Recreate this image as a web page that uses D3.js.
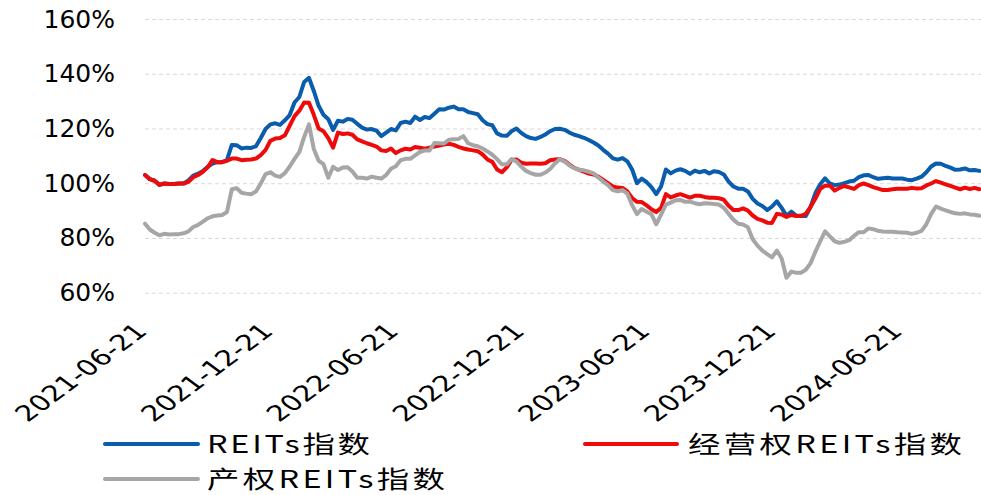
<!DOCTYPE html>
<html><head><meta charset="utf-8">
<script src="https://cdn.jsdelivr.net/npm/d3@7"></script>
<style>html,body{margin:0;padding:0;background:#fff;}</style>
</head><body><svg id="c" width="981" height="495"></svg>
<script>
const startDate = "2021-06-21";
const tickDates = ["2021-06-21","2021-12-21","2022-06-21","2022-12-21","2023-06-21","2023-12-21","2024-06-21"];
const yTicks = [60,80,100,120,140,160];
const seriesNames = ["REITs指数","经营权REITs指数","产权REITs指数"];
const seriesColors = ["#0A5DAD","#EE0A0A","#A6A6A6"];

const reits = [
103.0,101.5,100.9,99.4,99.9,99.7,99.7,99.9,99.9,101.0,
102.8,103.5,104.5,106.0,107.2,107.7,107.7,108.5,114.0,113.9,
112.7,113.0,112.9,113.5,116.5,119.8,121.5,121.9,121.3,123.0,
124.9,129.5,131.5,137.0,138.5,133.7,128.3,125.0,123.4,119.5,
122.8,122.5,123.5,123.2,121.7,120.3,119.6,119.8,119.2,117.2,
118.5,119.8,119.3,122.0,122.5,122.0,124.3,123.1,124.2,123.8,
125.4,127.0,126.9,127.6,128.0,127.0,127.0,126.0,125.6,125.2,
123.0,121.6,121.2,118.2,117.4,117.3,119.0,120.0,118.4,117.2,
116.5,116.2,116.9,117.8,119.0,119.8,119.9,119.5,118.5,117.7,
117.2,116.6,115.8,114.9,113.8,112.2,110.8,109.1,108.6,109.2,
108.0,105.0,100.0,101.7,100.4,98.6,96.0,98.8,105.0,103.6,
104.6,105.1,104.5,103.4,104.6,104.0,104.5,103.6,104.4,104.1,
103.2,100.6,98.8,98.0,98.0,97.0,94.3,92.6,91.7,90.2,
91.5,93.4,91.0,88.1,89.6,88.2,88.0,88.0,91.4,96.4,
99.6,101.8,99.9,99.3,99.5,100.0,100.6,100.9,102.2,102.9,
103.0,102.2,101.6,101.8,102.0,101.7,101.7,101.7,101.3,101.1,
101.7,102.4,104.0,106.1,107.2,107.1,106.3,105.7,104.9,105.0,
105.4,104.7,104.8,104.5
];
const operating = [
103.0,101.5,100.9,99.4,99.9,99.7,99.7,99.9,99.9,100.5,
102.2,103.0,104.2,105.8,108.5,107.7,107.7,108.2,109.0,109.0,
108.4,108.6,108.7,109.0,110.3,112.2,115.5,116.3,116.5,117.5,
121.0,124.5,126.5,129.5,129.4,125.0,120.0,119.0,116.5,113.0,
118.5,118.0,118.2,117.7,116.0,115.3,114.6,114.0,113.4,112.0,
111.8,112.7,111.0,112.0,112.6,112.3,113.2,113.0,112.6,113.0,
113.4,113.8,114.1,114.4,114.0,113.3,112.7,112.3,112.0,111.7,
110.5,108.7,107.8,105.0,104.0,105.8,108.5,108.7,107.5,107.1,
107.2,107.2,107.1,107.3,108.4,108.7,108.8,108.2,106.8,105.6,
104.9,104.2,103.5,103.2,102.4,101.2,100.0,98.8,98.4,98.3,
97.0,94.6,93.2,93.1,91.9,90.5,89.5,91.0,96.0,94.8,
95.5,96.0,95.4,94.7,95.4,95.4,95.0,94.7,94.7,94.5,
94.0,91.8,90.2,90.2,90.8,90.0,88.2,87.0,86.4,85.6,
85.5,88.8,88.6,87.7,88.4,88.0,88.1,88.8,91.4,94.4,
97.9,99.1,99.1,97.3,98.3,99.0,98.5,97.9,99.3,99.9,
99.3,98.6,98.0,97.5,97.5,97.8,98.0,98.0,98.0,98.3,
98.1,98.2,99.2,99.9,100.8,100.2,99.6,99.0,98.4,97.8,
98.4,97.9,98.3,97.8
];
const property = [
85.2,83.1,81.9,81.0,81.5,81.3,81.4,81.4,81.7,82.4,
84.0,84.8,86.0,87.2,87.9,88.2,88.4,89.5,97.8,98.2,
96.5,96.2,96.0,97.0,99.9,103.3,104.0,102.8,102.3,103.7,
106.1,108.9,111.4,116.9,121.5,112.5,108.2,107.0,102.0,106.0,
104.8,105.7,105.8,104.3,102.0,102.0,101.7,102.4,102.0,101.7,
103.0,105.3,106.2,108.4,108.9,108.9,110.2,111.4,112.0,112.0,
114.7,114.6,114.5,115.9,116.1,116.2,117.2,114.6,113.9,113.5,
112.7,111.6,110.4,108.8,106.9,106.9,108.8,108.0,106.1,104.5,
103.7,103.1,103.1,103.9,105.2,107.2,108.8,107.9,106.5,105.5,
104.9,104.7,104.2,103.6,102.1,100.6,99.3,97.5,97.0,97.5,
96.2,92.0,88.7,90.6,89.6,88.7,85.0,88.5,92.2,92.9,
93.8,93.9,93.2,93.3,92.7,92.3,92.7,92.6,92.4,92.2,
91.0,88.8,86.7,85.2,84.9,83.9,79.5,77.2,75.4,74.1,
72.9,75.4,72.5,65.5,67.7,67.3,67.3,68.4,70.8,75.0,
78.8,82.4,80.6,78.8,78.2,78.6,79.2,80.8,82.1,82.1,
83.5,83.2,82.6,82.4,82.3,82.3,82.1,82.0,81.9,81.5,
81.9,82.6,85.0,88.8,91.5,90.7,90.1,89.5,89.0,88.8,
89.0,88.6,88.5,88.1
];

const parse = d3.timeParse("%Y-%m-%d");
const dates = reits.map((_, i) => d3.timeDay.offset(parse(startDate), 7 * i));

const svg = d3.select("#c");
const L = 145, R = 979.4, T = 19, B = 292.7;
const x = d3.scaleTime().domain([dates[0], dates[dates.length - 1]]).range([L, R]);
const y = d3.scaleLinear().domain([60, 160]).range([B, T]);

// Y axis with gridlines
const gy = svg.append("g").attr("transform", `translate(${L},0)`)
  .call(d3.axisLeft(y).tickValues(yTicks).tickSize(-(981 - L)).tickPadding(30).tickFormat(d => d + "%"));
gy.select(".domain").remove();
gy.selectAll(".tick line").attr("stroke", "#d9d9d9").attr("stroke-width", 1).attr("stroke-dasharray", "4,3");
gy.selectAll(".tick text").attr("font-family", "DejaVu Sans").attr("font-size", 25).attr("fill", "#000");

// X axis
const gx = svg.append("g").attr("transform", `translate(0,${B})`)
  .call(d3.axisBottom(x).tickValues(tickDates.map(parse)).tickSize(0).tickFormat(d3.timeFormat("%Y-%m-%d")));
gx.select(".domain").remove();
gx.selectAll(".tick text")
  .attr("font-family", "DejaVu Sans").attr("font-size", 22).attr("fill", "#000")
  .attr("y", 0).attr("dy", 0).attr("text-anchor", "end")
  .attr("transform", "translate(3,40) scale(1.34,1) rotate(-45)");

// Lines
const line = d3.line().x((d, i) => x(dates[i])).y(d => y(d)).curve(d3.curveLinear);
[reits, operating, property].forEach((s, k) => {
  svg.append("path").datum(s).attr("d", line)
    .attr("fill", "none").attr("stroke", seriesColors[k]).attr("stroke-width", 4)
    .attr("stroke-linejoin", "round").attr("stroke-linecap", "round");
});

// Legend
const legendItems = [
  {k: 0, x1: 105, x2: 198, ly: 444, tx: 207, tb: 453, w: 163},
  {k: 1, x1: 585, x2: 677, ly: 444, tx: 688, tb: 453, w: 274},
  {k: 2, x1: 105, x2: 198, ly: 479, tx: 207, tb: 488, w: 238}
];
const sx = 1.35;
legendItems.forEach(it => {
  svg.append("line").attr("x1", it.x1).attr("x2", it.x2).attr("y1", it.ly).attr("y2", it.ly)
    .attr("stroke", seriesColors[it.k]).attr("stroke-width", 4).attr("stroke-linecap", "round");
  svg.append("text").attr("transform", `translate(${it.tx},${it.tb}) scale(${sx},1)`)
    .attr("font-family", "Noto Sans CJK SC").attr("font-size", 24).attr("fill", "#000")
    .attr("textLength", it.w / sx).attr("lengthAdjust", "spacing")
    .text(seriesNames[it.k]);
});
</script></body></html>
